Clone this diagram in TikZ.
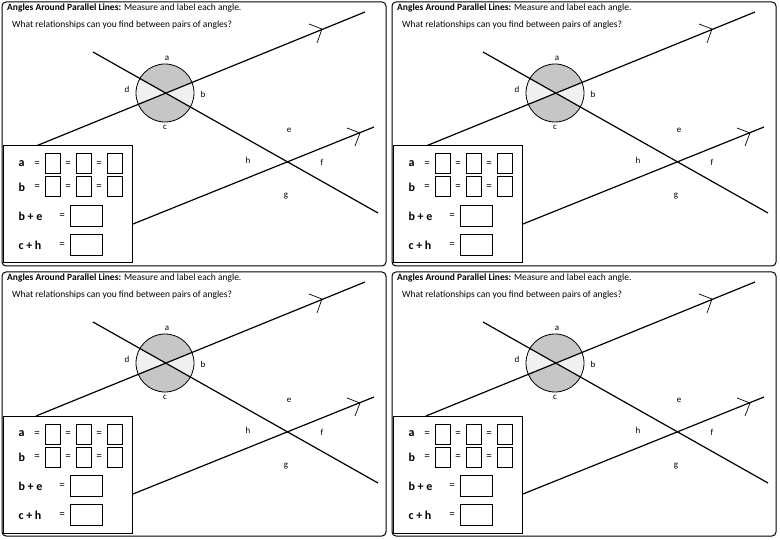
\documentclass[tikz,border=0pt]{standalone}
\usepackage{fontspec}
\setmainfont{Carlito}
\begin{document}
\begin{tikzpicture}[x=1pt,y=-1pt,
  ln/.style={line width=1.2pt},
  lbl/.style={font=\fontsize{9}{10}\selectfont},
  bx/.style={draw,line width=1pt},
  bt/.style={font=\fontsize{12}{14}\selectfont\bfseries,anchor=west},
  chev/.style={line width=0.7pt}]
\useasboundingbox (0,0) rectangle (780,540);
\foreach \ox/\oy in {0/0,390/0,0/270,390/270}{
\begin{scope}[shift={(\ox,\oy)}]
  \draw[line width=1pt,rounded corners=4pt] (2,2) rectangle (386,266);
  \node[anchor=west,font=\fontsize{9.5}{11}\selectfont,inner sep=0] at (7,8) {\textbf{Angles Around Parallel Lines:} Measure and label each angle.};
  \node[anchor=west,font=\fontsize{9.5}{11}\selectfont,inner sep=0] at (12,25) {What relationships can you find between pairs of angles?};
  \coordinate (X1) at (165,93);
  \coordinate (X2) at (287,162);
  \fill[gray!45] (X1) -- ++(-22:29) arc[start angle=-22,end angle=-150.5,radius=29] -- cycle;
  \fill[gray!45] (X1) -- ++(-202:29) arc[start angle=-202,end angle=-330.5,radius=29] -- cycle;
  \fill[gray!12] (X1) -- ++(-150.5:29) arc[start angle=-150.5,end angle=-202,radius=29] -- cycle;
  \fill[gray!12] (X1) -- ++(29.5:29) arc[start angle=29.5,end angle=-22,radius=29] -- cycle;
  \draw[line width=0.8pt] (X1) circle[radius=29];
  \draw[ln] (36,146) -- (365,12);
  \draw[ln] (133,224) -- (374,127);
  \draw[ln] (93,52) -- (378,213);
  \draw[chev] (309,24) -- (322,29) -- (317,43);
  \draw[chev] (347,128) -- (360,133) -- (355,146);
  \node[lbl] at (167,58) {a};
  \node[lbl] at (203,94) {b};
  \node[lbl] at (165,127) {c};
  \node[lbl] at (127,89) {d};
  \node[lbl] at (289,130) {e};
  \node[lbl] at (322,162) {f};
  \node[lbl] at (286,196) {g};
  \node[lbl] at (248,160) {h};
  \draw[line width=1pt,fill=white] (3,146) rectangle (132,263);
  \node[bt] at (15,164) {a};
  \node[bt] at (15,187) {b};
  \node[bt] at (15,216) {b + e};
  \node[bt] at (15,245) {c + h};
  \foreach \y in {164,187}{
    \node[font=\fontsize{11}{12}\selectfont] at (37,\y) {=};
    \node[font=\fontsize{11}{12}\selectfont] at (68,\y) {=};
    \node[font=\fontsize{11}{12}\selectfont] at (99,\y) {=};
    \draw[bx] (45,\y-10) rectangle (60,\y+10);
    \draw[bx] (76,\y-10) rectangle (91,\y+10);
    \draw[bx] (107,\y-10) rectangle (122,\y+10);
  }
  \foreach \y in {216,245}{
    \node[font=\fontsize{11}{12}\selectfont] at (62,\y) {=};
    \draw[bx] (70,\y-10.5) rectangle (102,\y+10.5);
  }
\end{scope}}
\end{tikzpicture}
\end{document}
